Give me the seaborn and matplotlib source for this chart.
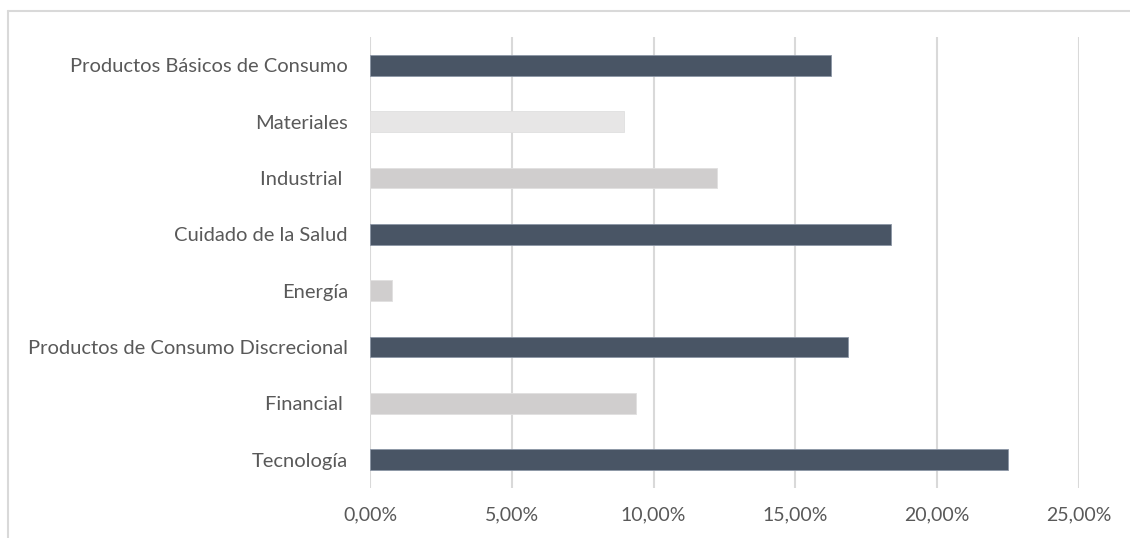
import matplotlib
matplotlib.use("Agg")
import matplotlib.pyplot as plt
from matplotlib.lines import Line2D
from matplotlib.ticker import FuncFormatter, MultipleLocator
import seaborn as sns
import pandas as pd

# Sector weights (%)
sectors = [
    "Productos Básicos de Consumo",
    "Materiales",
    "Industrial ",
    "Cuidado de la Salud",
    "Energía",
    "Productos de Consumo Discrecional",
    "Financial ",
    "Tecnología",
]
weights = [16.26, 8.96, 12.24, 18.37, 0.78, 16.85, 9.38, 22.50]
bar_colors = ["#44546A", "#E7E6E6", "#D0CECE", "#44546A",
              "#D0CECE", "#44546A", "#D0CECE", "#44546A"]

df = pd.DataFrame({"sector": sectors, "weight": weights})

sns.set_theme(style="white")
plt.rcParams["font.family"] = ["Lato", "DejaVu Sans"]

fig = plt.figure(figsize=(11.3, 5.38), dpi=100)
ax = fig.add_axes([370 / 1130, 1 - 488 / 538, (1079 - 370) / 1130, (488 - 37) / 538])

sns.barplot(data=df, y="sector", x="weight", hue="sector",
            palette=dict(zip(sectors, bar_colors)), legend=False,
            width=0.37, orient="h", ax=ax, zorder=3,
            edgecolor="none")
for patch, c in zip(ax.patches, bar_colors):
    patch.set_edgecolor("#8C96A6" if c == "#44546A" else "#E0DFDF")
    patch.set_linewidth(0.6)

ax.set_xlim(0, 25)
ax.set_ylim(7.5, -0.5)
ax.xaxis.set_major_locator(MultipleLocator(5))
ax.xaxis.set_major_formatter(FuncFormatter(lambda v, p: f"{v:.2f}".replace(".", ",") + "%"))
ax.grid(axis="x", color="#D9D9D9", linewidth=1.5, zorder=0)
ax.grid(axis="y", visible=False)
for s in ax.spines.values():
    s.set_visible(False)
ax.set_xlabel("")
ax.set_ylabel("")
ax.tick_params(axis="y", length=0, pad=16, labelsize=14.5, labelcolor="#595959")
ax.tick_params(axis="x", length=0, pad=13, labelsize=14, labelcolor="#595959")

# Chart frame (top and left edges)
frame_kw = dict(color="#D9D9D9", linewidth=1.5, transform=fig.transFigure)
fig.add_artist(Line2D([8 / 1130, 1.0], [1 - 11 / 538, 1 - 11 / 538], **frame_kw))
fig.add_artist(Line2D([8 / 1130, 8 / 1130], [1 - 11 / 538, 0.0], **frame_kw))

fig.savefig("out.png", dpi=100, facecolor="white")
